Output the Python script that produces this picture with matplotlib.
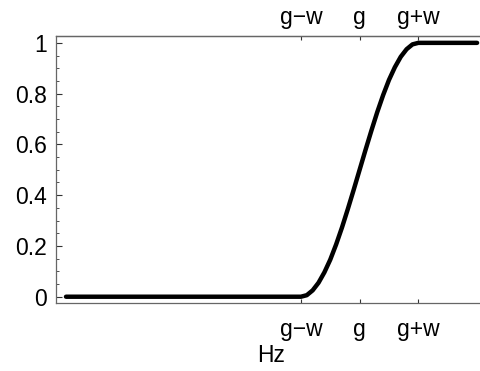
import matplotlib
matplotlib.use("Agg")
import matplotlib.pyplot as plt
from matplotlib.ticker import MultipleLocator

plt.rcParams['font.family'] = ['Liberation Sans', 'DejaVu Sans']

# frequency response samples, x in units of w around g
freq = [-5.0, -1.0, -0.9, -0.8, -0.7, -0.6, -0.5, -0.4, -0.3, -0.2, -0.1,
        0.0, 0.1, 0.2, 0.3, 0.4, 0.5, 0.6, 0.7, 0.8, 0.9, 1.0, 2.0]
gain = [0.0, 0.0, 0.006, 0.025, 0.055, 0.096, 0.146, 0.206, 0.273, 0.346, 0.422,
        0.5, 0.578, 0.654, 0.727, 0.794, 0.854, 0.904, 0.945, 0.975, 0.994, 1.0, 1.0]

xtick_pos = [-1, 0, 1]
xtick_labels = ["g\u2212w", "g", "g+w"]
ytick_pos = [0, 0.2, 0.4, 0.6, 0.8, 1.0]
ytick_labels = ["0", "0.2", "0.4", "0.6", "0.8", "1"]

fig = plt.figure(figsize=(4.8, 3.71), dpi=100)
ax = fig.add_axes([0.1167, 0.184, 0.898, 0.718])

ax.plot(freq, gain, color='black', lw=3.2, solid_capstyle='round', solid_joinstyle='round')

ax.set_xlim(-5.17, 2.17)
ax.set_ylim(-0.0237, 1.0256)

ax.set_xticks(xtick_pos)
ax.set_xticklabels(xtick_labels)
ax.set_yticks(ytick_pos)
ax.set_yticklabels(ytick_labels)
ax.yaxis.set_minor_locator(MultipleLocator(0.05))

ax.tick_params(axis='x', which='major', direction='in', length=3, width=0.8,
               labelsize=16.5, pad=11, color='#333333')
ax.tick_params(axis='y', which='major', direction='in', length=4, width=0.8,
               labelsize=16.5, pad=6.5, color='#333333')
ax.tick_params(axis='y', which='minor', direction='in', length=2, width=0.6,
               color='#333333')

# same ticks repeated along the top edge
top = ax.secondary_xaxis('top')
top.set_xticks(xtick_pos)
top.set_xticklabels(xtick_labels)
top.tick_params(axis='x', direction='in', length=3, width=0.8,
                labelsize=16.5, pad=5, color='#333333')
top.spines['top'].set_color('#666666')
top.spines['top'].set_linewidth(0.9)

for side in ['left', 'bottom', 'top', 'right']:
    ax.spines[side].set_color('#666666')
    ax.spines[side].set_linewidth(0.9)

ax.set_xlabel("Hz", fontsize=16.5, labelpad=2.5)

fig.savefig("out.png", dpi=100)
